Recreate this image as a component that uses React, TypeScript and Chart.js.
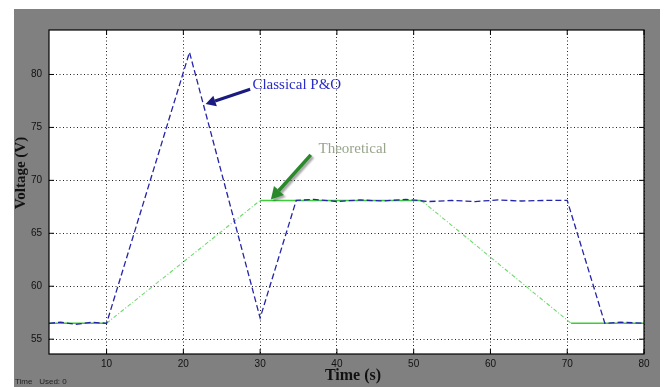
import React, { useEffect, useRef } from "react";
import { Chart, registerables } from "chart.js";

Chart.register(...registerables);

// ---- data ----
const xTicks = [10, 20, 30, 40, 50, 60, 70, 80];
const yTicks = [55, 60, 65, 70, 75, 80];

const classicalTime = [2.5, 4, 6, 8, 10, 20.8, 30, 34.7, 37, 40, 43, 46, 49, 52, 55, 58, 61, 64, 67, 70, 74.9, 77, 80];
const classicalVolt = [56.5, 56.6, 56.4, 56.6, 56.5, 82.1, 57.0, 68.1, 68.2, 68.0, 68.15, 68.05, 68.2, 68.0, 68.1, 68.0, 68.15, 68.05, 68.1, 68.1, 56.5, 56.6, 56.5];

const theoryTime = [2.5, 10, 30, 51, 70.5, 80];
const theoryVolt = [56.5, 56.5, 68.1, 68.1, 56.5, 56.5];

const xRange = [2.5, 80];
const yRange = [53.6, 84.2];

// annotation anchors in data units
const classicalLabel = { text: "Classical P&O", x: 29.0, y: 79.0, fromX: 28.7, fromY: 78.6, toX: 22.9, toY: 77.2 };
const theoryLabel = { text: "Theoretical", x: 37.6, y: 73.0, fromX: 36.6, fromY: 72.4, toX: 31.4, toY: 68.2 };

function drawArrow(ctx: CanvasRenderingContext2D, x1: number, y1: number, x2: number, y2: number, color: string, w: number, head: number) {
  const ang = Math.atan2(y2 - y1, x2 - x1);
  const bx = x2 - head * Math.cos(ang);
  const by = y2 - head * Math.sin(ang);
  ctx.save();
  ctx.strokeStyle = color;
  ctx.fillStyle = color;
  ctx.lineWidth = w;
  ctx.beginPath();
  ctx.moveTo(x1, y1);
  ctx.lineTo(bx, by);
  ctx.stroke();
  ctx.beginPath();
  ctx.moveTo(x2, y2);
  ctx.lineTo(bx + head * 0.55 * Math.sin(ang), by - head * 0.55 * Math.cos(ang));
  ctx.lineTo(bx - head * 0.55 * Math.sin(ang), by + head * 0.55 * Math.cos(ang));
  ctx.closePath();
  ctx.fill();
  ctx.restore();
}

const framePlugin = {
  id: "frame",
  beforeDraw(chart: any) {
    const { ctx, width, height, chartArea: a } = chart;
    ctx.save();
    ctx.fillStyle = "#ffffff";
    ctx.fillRect(0, 0, width, height);
    ctx.fillStyle = "#808080";
    ctx.fillRect(14, 9, 646, height - 9);
    ctx.fillStyle = "#ffffff";
    ctx.fillRect(a.left, a.top, a.right - a.left, a.bottom - a.top);
    ctx.restore();
  },
  afterDraw(chart: any) {
    const { ctx, chartArea: a, scales } = chart;
    const xs = scales.x;
    const ys = scales.y;
    ctx.save();
    ctx.strokeStyle = "#000";
    ctx.lineWidth = 1.2;
    ctx.strokeRect(a.left, a.top, a.right - a.left, a.bottom - a.top);
    ctx.lineWidth = 1;
    ctx.beginPath();
    xTicks.forEach((v) => {
      const px = xs.getPixelForValue(v);
      ctx.moveTo(px, a.bottom);
      ctx.lineTo(px, a.bottom - 5);
      ctx.moveTo(px, a.top);
      ctx.lineTo(px, a.top + 5);
    });
    yTicks.forEach((v) => {
      const py = ys.getPixelForValue(v);
      ctx.moveTo(a.left, py);
      ctx.lineTo(a.left + 5, py);
      ctx.moveTo(a.right, py);
      ctx.lineTo(a.right - 5, py);
    });
    ctx.stroke();

    drawArrow(
      ctx,
      xs.getPixelForValue(classicalLabel.fromX), ys.getPixelForValue(classicalLabel.fromY),
      xs.getPixelForValue(classicalLabel.toX), ys.getPixelForValue(classicalLabel.toY),
      "#1a1a80", 3, 10
    );
    ctx.font = "15px 'Liberation Serif', serif";
    ctx.fillStyle = "#2b2bc8";
    ctx.textBaseline = "middle";
    ctx.textAlign = "left";
    ctx.fillText(classicalLabel.text, xs.getPixelForValue(classicalLabel.x), ys.getPixelForValue(classicalLabel.y));

    ctx.save();
    ctx.shadowColor = "rgba(0,0,0,0.35)";
    ctx.shadowOffsetX = 2;
    ctx.shadowOffsetY = 2;
    ctx.shadowBlur = 2;
    drawArrow(
      ctx,
      xs.getPixelForValue(theoryLabel.fromX), ys.getPixelForValue(theoryLabel.fromY),
      xs.getPixelForValue(theoryLabel.toX), ys.getPixelForValue(theoryLabel.toY),
      "#2a8a2a", 3.5, 12
    );
    ctx.restore();
    ctx.font = "15px 'Liberation Serif', serif";
    ctx.fillStyle = "#98a58c";
    ctx.fillText(theoryLabel.text, xs.getPixelForValue(theoryLabel.x), ys.getPixelForValue(theoryLabel.y));

    ctx.fillStyle = "#111";
    ctx.font = "bold 16px 'Liberation Serif', serif";
    ctx.textAlign = "center";
    ctx.fillText("Time (s)", 353, 376);
    ctx.save();
    ctx.translate(21, 173);
    ctx.rotate(-Math.PI / 2);
    ctx.font = "bold 15px 'Liberation Serif', serif";
    ctx.fillText("Voltage (V)", 0, 0);
    ctx.restore();

    ctx.font = "8px 'Liberation Sans', sans-serif";
    ctx.textAlign = "left";
    ctx.fillStyle = "#222";
    ctx.fillText("Time   Used: 0", 15, 382);
    ctx.restore();
  },
};

export default function App() {
  const ref = useRef<HTMLCanvasElement | null>(null);
  useEffect(() => {
    document.body.style.margin = "0";
    if (!ref.current) return;
    const sloped = (c: any) => Math.abs(c.p0.parsed.y - c.p1.parsed.y) > 0.01;
    const chart = new Chart(ref.current, {
      type: "line",
      data: {
        datasets: [
          {
            label: "Classical P&O",
            data: classicalTime.map((t, i) => ({ x: t, y: classicalVolt[i] })),
            borderColor: "#2424a8",
            borderWidth: 1.3,
            borderDash: [6, 3],
            pointRadius: 0,
            tension: 0,
          },
          {
            label: "Theoretical",
            data: theoryTime.map((t, i) => ({ x: t, y: theoryVolt[i] })),
            borderColor: "#3ccc3c",
            borderWidth: 1.5,
            pointRadius: 0,
            tension: 0,
            segment: {
              borderDash: (c: any) => (sloped(c) ? [4, 2, 1, 2] : undefined),
              borderColor: (c: any) => (sloped(c) ? "#6ed86e" : "#3ccc3c"),
              borderWidth: (c: any) => (sloped(c) ? 1.1 : 1.5),
            },
          },
        ],
      },
      options: {
        animation: false,
        responsive: true,
        maintainAspectRatio: false,
        layout: { padding: { left: 0, top: 30, right: 20, bottom: 0 } },
        plugins: { legend: { display: false }, tooltip: { enabled: false } },
        scales: {
          x: {
            type: "linear",
            min: xRange[0],
            max: xRange[1],
            afterBuildTicks: (s: any) => {
              s.ticks = xTicks.map((v) => ({ value: v }));
            },
            afterFit: (s: any) => {
              s.height = 33;
            },
            grid: { color: "#222", lineWidth: 1, drawTicks: false },
            border: { display: false, dash: [1, 2.5] },
            ticks: {
              padding: 4,
              color: "#111",
              font: { size: 10, family: "'Liberation Sans', sans-serif" },
              maxRotation: 0,
            },
          },
          y: {
            type: "linear",
            min: yRange[0],
            max: yRange[1],
            afterBuildTicks: (s: any) => {
              s.ticks = yTicks.map((v) => ({ value: v }));
            },
            afterFit: (s: any) => {
              s.width = 49;
            },
            grid: { color: "#222", lineWidth: 1, drawTicks: false },
            border: { display: false, dash: [1, 2.5] },
            ticks: {
              padding: 7,
              color: "#111",
              font: { size: 10, family: "'Liberation Sans', sans-serif" },
            },
          },
        },
      },
      plugins: [framePlugin],
    });
    return () => chart.destroy();
  }, []);
  return (
    <div style={{ width: 664, height: 387, position: "relative" }}>
      <canvas ref={ref} />
    </div>
  );
}
